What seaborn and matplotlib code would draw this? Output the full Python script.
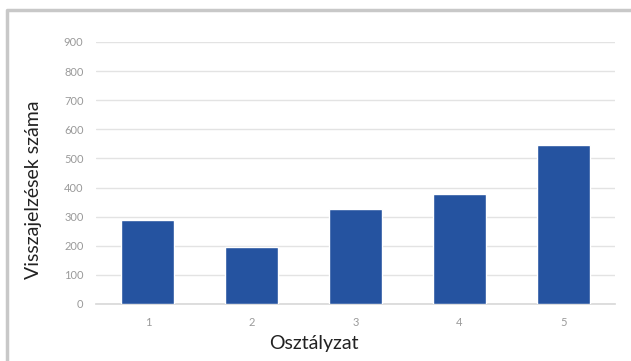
import matplotlib
matplotlib.use("Agg")
import matplotlib.pyplot as plt
import seaborn as sns
import pandas as pd
from matplotlib.lines import Line2D

grades = ["1", "2", "3", "4", "5"]
counts = [290, 195, 326, 378, 546]
yticks = [0, 100, 200, 300, 400, 500, 600, 700, 800, 900]

df = pd.DataFrame({"Osztályzat": grades, "count": counts})

sns.set_theme(style="white")
plt.rcParams["font.family"] = ["Lato", "DejaVu Sans"]

W, H = 631, 361
fig = plt.figure(figsize=(W / 100, H / 100), dpi=100)
ax = fig.add_axes([96 / W, 1 - 304 / H, (615 - 96) / W, (304 - 42) / H])

sns.barplot(data=df, x="Osztályzat", y="count", color="#2553A0",
            saturation=1, width=0.51, ax=ax, zorder=3)

ax.set_ylim(0, 900)
ax.set_yticks(yticks)
ax.yaxis.grid(True, color="#e3e3e3", linewidth=1, zorder=0)
ax.set_axisbelow(True)
for s in ["top", "right", "left"]:
    ax.spines[s].set_visible(False)
ax.spines["bottom"].set_color("#d9d9d9")
ax.tick_params(axis="both", length=0, labelsize=8, colors="#9a9a9a", pad=9)
ax.set_ylabel("Visszajelzések száma", fontsize=14, color="#222222")
ax.set_xlabel("Osztályzat", fontsize=14, color="#222222")
# label positions in figure pixels
ax.yaxis.set_label_coords(34 / W, 1 - 190 / H, transform=fig.transFigure)
ax.xaxis.set_label_coords(314 / W, 1 - 343 / H, transform=fig.transFigure)
ax.yaxis.label.set_va("center")
ax.xaxis.label.set_va("center")

# frame around the picture (left and top edges visible)
fig.lines.append(Line2D([7 / W, 7 / W, 1], [0, 1 - 10 / H, 1 - 10 / H],
                        transform=fig.transFigure, color="#c8c8c8", linewidth=2.5))

fig.savefig("out.png", dpi=100)
